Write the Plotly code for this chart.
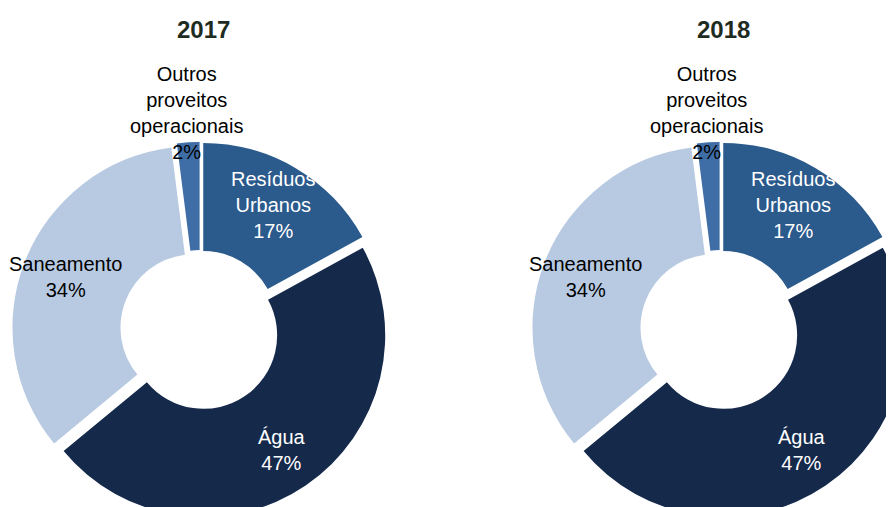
import math
import plotly.graph_objects as go

# dados
categorias = ['Resíduos Urbanos', 'Água', 'Saneamento', 'Outros proveitos operacionais']
rotulos = ['Resíduos<br>Urbanos', 'Água', 'Saneamento', 'Outros<br>proveitos<br>operacionais']
valores_2017 = [17, 47, 34, 2]
valores_2018 = [17, 47, 34, 2]
anos = ['2017', '2018']

cores = ['#2b5a8c', '#15294a', '#b8cae2', '#3f6ea6']
cores_texto = ['white', 'white', 'black', 'black']
raio_rotulo = [145, 145, 145, 217]  # px a partir do centro (ultimo fica fora)

# a pagina tem margem de 8px no body
W, H = 910, 644
PULL = 0.035
FONTE = 'Liberation Sans, Arial'

fig = go.Figure()

dominios = [[4 / W, 380 / W], [524 / W, 900 / W]]
for valores, dom in zip([valores_2017, valores_2018], dominios):
    fig.add_trace(go.Pie(
        labels=categorias,
        values=valores,
        textinfo='none',
        marker=dict(colors=cores, line=dict(width=0)),
        hole=0.405,
        pull=[PULL] * len(valores),
        sort=False,
        direction='clockwise',
        rotation=0,
        automargin=False,
        domain=dict(x=dom, y=[0, 1]),
        showlegend=False,
        hoverinfo='label+percent',
    ))

    # rotulos no angulo medio de cada fatia
    cx = (dom[0] + dom[1]) / 2 * W
    cy = H / 2
    total = sum(valores)
    acum = 0
    for v, txt, cor, rr in zip(valores, rotulos, cores_texto, raio_rotulo):
        ang = 2 * math.pi * (acum + v / 2) / total
        acum += v
        x = cx + rr * math.sin(ang)
        y = cy + rr * math.cos(ang)
        fig.add_annotation(
            text=f'{txt}<br>{round(100 * v / total)}%',
            x=x / W, y=y / H, xref='paper', yref='paper',
            showarrow=False, xanchor='center', yanchor='middle',
            font=dict(family=FONTE, size=20, color=cor),
        )

# titulos
for ano, dom in zip(anos, dominios):
    fig.add_annotation(
        text='<b>' + ano + '</b>', x=(dom[0] + dom[1]) / 2 + 3 / W, y=(H - 21) / H,
        xref='paper', yref='paper', showarrow=False,
        xanchor='center', yanchor='middle',
        font=dict(family=FONTE, size=24, color='#1e2b1f'),
    )

fig.update_layout(
    width=W, height=H,
    margin=dict(l=0, r=0, t=0, b=0, autoexpand=False),
    paper_bgcolor='white',
    plot_bgcolor='white',
)

fig.write_html("out.html", config={'displayModeBar': False})
